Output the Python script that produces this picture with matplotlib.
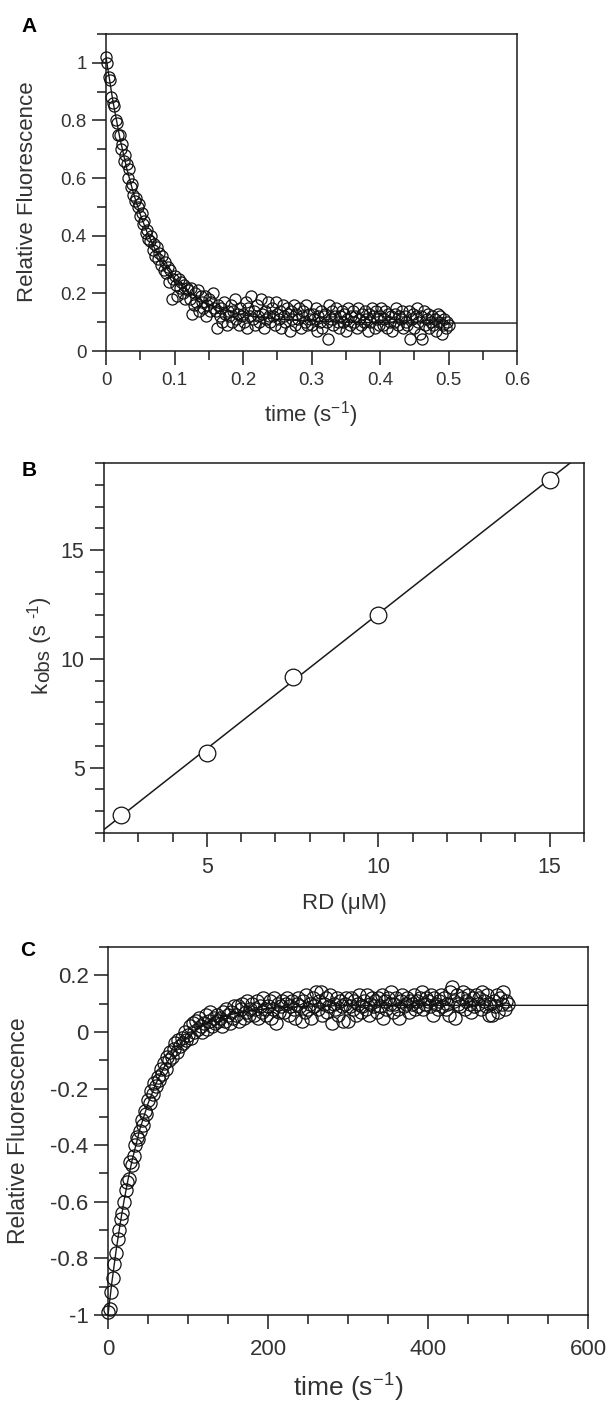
import matplotlib
matplotlib.use("Agg")
import matplotlib.pyplot as plt
from matplotlib.ticker import FixedLocator, NullFormatter

plt.rcParams['font.family'] = ['Liberation Sans', 'DejaVu Sans']
plt.rcParams['mathtext.fontset'] = 'custom'
plt.rcParams['mathtext.rm'] = 'Liberation Sans'
plt.rcParams['mathtext.it'] = 'Liberation Sans'
plt.rcParams['mathtext.default'] = 'regular'

# ---------------- Panel A data (decay) ----------------
a_time = [
    0.000, 0.002, 0.004, 0.006, 0.008, 0.010, 0.012, 0.014, 0.016, 0.018,
    0.020, 0.022, 0.024, 0.026, 0.028, 0.030, 0.032, 0.034, 0.036, 0.038,
    0.040, 0.042, 0.044, 0.046, 0.048, 0.050, 0.052, 0.054, 0.056, 0.058,
    0.060, 0.062, 0.064, 0.066, 0.068, 0.070, 0.072, 0.074, 0.076, 0.078,
    0.080, 0.082, 0.084, 0.086, 0.088, 0.090, 0.092, 0.094, 0.096, 0.098,
    0.100, 0.102, 0.104, 0.106, 0.108, 0.110, 0.112, 0.114, 0.116, 0.118,
    0.120, 0.122, 0.124, 0.126, 0.128, 0.130, 0.132, 0.134, 0.136, 0.138,
    0.140, 0.142, 0.144, 0.146, 0.148, 0.150, 0.152, 0.154, 0.156, 0.158,
    0.160, 0.162, 0.164, 0.166, 0.168, 0.170, 0.172, 0.174, 0.176, 0.178,
    0.180, 0.182, 0.184, 0.186, 0.188, 0.190, 0.192, 0.194, 0.196, 0.198,
    0.200, 0.202, 0.204, 0.206, 0.208, 0.210, 0.212, 0.214, 0.216, 0.218,
    0.220, 0.222, 0.224, 0.226, 0.228, 0.230, 0.232, 0.234, 0.236, 0.238,
    0.240, 0.242, 0.244, 0.246, 0.248, 0.250, 0.252, 0.254, 0.256, 0.258,
    0.260, 0.262, 0.264, 0.266, 0.268, 0.270, 0.272, 0.274, 0.276, 0.278,
    0.280, 0.282, 0.284, 0.286, 0.288, 0.290, 0.292, 0.294, 0.296, 0.298,
    0.300, 0.302, 0.304, 0.306, 0.308, 0.310, 0.312, 0.314, 0.316, 0.318,
    0.320, 0.322, 0.324, 0.326, 0.328, 0.330, 0.332, 0.334, 0.336, 0.338,
    0.340, 0.342, 0.344, 0.346, 0.348, 0.350, 0.352, 0.354, 0.356, 0.358,
    0.360, 0.362, 0.364, 0.366, 0.368, 0.370, 0.372, 0.374, 0.376, 0.378,
    0.380, 0.382, 0.384, 0.386, 0.388, 0.390, 0.392, 0.394, 0.396, 0.398,
    0.400, 0.402, 0.404, 0.406, 0.408, 0.410, 0.412, 0.414, 0.416, 0.418,
    0.420, 0.422, 0.424, 0.426, 0.428, 0.430, 0.432, 0.434, 0.436, 0.438,
    0.440, 0.442, 0.444, 0.446, 0.448, 0.450, 0.452, 0.454, 0.456, 0.458,
    0.460, 0.462, 0.464, 0.466, 0.468, 0.470, 0.472, 0.474, 0.476, 0.478,
    0.480, 0.482, 0.484, 0.486, 0.488, 0.490, 0.492, 0.494, 0.496, 0.498,
    0.500,
]
a_fluor = [
    1.02, 1.00, 0.95, 0.94, 0.88, 0.86, 0.85, 0.80, 0.79, 0.75,
    0.75, 0.70, 0.72, 0.66, 0.68, 0.65, 0.60, 0.63, 0.57, 0.58,
    0.54, 0.52, 0.53, 0.50, 0.51, 0.47, 0.48, 0.44, 0.45, 0.41,
    0.42, 0.39, 0.38, 0.40, 0.35, 0.37, 0.33, 0.36, 0.32, 0.34,
    0.30, 0.33, 0.28, 0.31, 0.27, 0.29, 0.24, 0.28, 0.18, 0.25,
    0.26, 0.23, 0.19, 0.25, 0.22, 0.24, 0.20, 0.23, 0.18, 0.22,
    0.21, 0.18, 0.22, 0.13, 0.16, 0.20, 0.17, 0.21, 0.14, 0.19,
    0.17, 0.15, 0.19, 0.12, 0.16, 0.18, 0.14, 0.17, 0.20, 0.15,
    0.14, 0.08, 0.16, 0.12, 0.15, 0.10, 0.17, 0.13, 0.09, 0.14,
    0.12, 0.16, 0.10, 0.14, 0.18, 0.11, 0.13, 0.09, 0.15, 0.12,
    0.13, 0.10, 0.17, 0.08, 0.15, 0.12, 0.19, 0.11, 0.14, 0.09,
    0.16, 0.12, 0.10, 0.18, 0.13, 0.08, 0.14, 0.11, 0.17, 0.12,
    0.10, 0.15, 0.12, 0.09, 0.17, 0.13, 0.11, 0.14, 0.08, 0.16,
    0.12, 0.10, 0.15, 0.13, 0.07, 0.14, 0.11, 0.16, 0.09, 0.13,
    0.11, 0.15, 0.08, 0.12, 0.14, 0.10, 0.16, 0.09, 0.13, 0.11,
    0.09, 0.13, 0.11, 0.15, 0.07, 0.12, 0.10, 0.14, 0.08, 0.12,
    0.13, 0.10, 0.04, 0.16, 0.11, 0.14, 0.09, 0.12, 0.15, 0.10,
    0.08, 0.12, 0.14, 0.10, 0.13, 0.07, 0.11, 0.15, 0.09, 0.12,
    0.14, 0.10, 0.12, 0.08, 0.15, 0.11, 0.09, 0.13, 0.10, 0.14,
    0.11, 0.07, 0.13, 0.10, 0.15, 0.12, 0.08, 0.14, 0.11, 0.09,
    0.12, 0.15, 0.09, 0.11, 0.14, 0.08, 0.13, 0.10, 0.12, 0.07,
    0.10, 0.13, 0.15, 0.09, 0.12, 0.11, 0.14, 0.08, 0.12, 0.10,
    0.09, 0.14, 0.04, 0.11, 0.13, 0.08, 0.12, 0.15, 0.10, 0.06,
    0.12, 0.04, 0.14, 0.09, 0.11, 0.13, 0.08, 0.10, 0.12, 0.09,
    0.11, 0.07, 0.13, 0.10, 0.12, 0.06, 0.09, 0.11, 0.08, 0.10,
    0.09,
]
a_fit_time = [0.0, 0.01, 0.02, 0.03, 0.04, 0.05, 0.06, 0.07, 0.08, 0.09, 0.10,
              0.12, 0.14, 0.16, 0.18, 0.20, 0.25, 0.30, 0.35, 0.40, 0.50, 0.60]
a_fit_fluor = [1.02, 0.868, 0.742, 0.636, 0.548, 0.474, 0.412, 0.361, 0.318, 0.282, 0.252,
               0.206, 0.174, 0.152, 0.136, 0.125, 0.110, 0.104, 0.100, 0.098, 0.097, 0.097]

# ---------------- Panel B data (kobs vs RD) ----------------
b_rd = [2.5, 5.0, 7.5, 10.0, 15.0]
b_kobs = [2.82, 5.68, 9.15, 12.01, 18.23]
b_fit_rd = [2.0, 16.0]
b_fit_kobs = [2.16, 19.50]

# ---------------- Panel C data (rise) ----------------
c_time = [
    0, 2, 4, 6, 8, 10, 12, 14, 16, 18,
    20, 22, 24, 26, 28, 30, 32, 34, 36, 38,
    40, 42, 44, 46, 48, 50, 52, 54, 56, 58,
    60, 62, 64, 66, 68, 70, 72, 74, 76, 78,
    80, 82, 84, 86, 88, 90, 92, 94, 96, 98,
    100, 102, 104, 106, 108, 110, 112, 114, 116, 118,
    120, 122, 124, 126, 128, 130, 132, 134, 136, 138,
    140, 142, 144, 146, 148, 150, 152, 154, 156, 158,
    160, 162, 164, 166, 168, 170, 172, 174, 176, 178,
    180, 182, 184, 186, 188, 190, 192, 194, 196, 198,
    200, 202, 204, 206, 208, 210, 212, 214, 216, 218,
    220, 222, 224, 226, 228, 230, 232, 234, 236, 238,
    240, 242, 244, 246, 248, 250, 252, 254, 256, 258,
    260, 262, 264, 266, 268, 270, 272, 274, 276, 278,
    280, 282, 284, 286, 288, 290, 292, 294, 296, 298,
    300, 302, 304, 306, 308, 310, 312, 314, 316, 318,
    320, 322, 324, 326, 328, 330, 332, 334, 336, 338,
    340, 342, 344, 346, 348, 350, 352, 354, 356, 358,
    360, 362, 364, 366, 368, 370, 372, 374, 376, 378,
    380, 382, 384, 386, 388, 390, 392, 394, 396, 398,
    400, 402, 404, 406, 408, 410, 412, 414, 416, 418,
    420, 422, 424, 426, 428, 430, 432, 434, 436, 438,
    440, 442, 444, 446, 448, 450, 452, 454, 456, 458,
    460, 462, 464, 466, 468, 470, 472, 474, 476, 478,
    480, 482, 484, 486, 488, 490, 492, 494, 496, 498,
    500,
]
c_fluor = [
    -0.99, -0.98, -0.92, -0.87, -0.82, -0.78, -0.73, -0.70, -0.66, -0.64,
    -0.60, -0.56, -0.53, -0.52, -0.46, -0.47, -0.44, -0.40, -0.37, -0.38,
    -0.35, -0.31, -0.33, -0.28, -0.29, -0.24, -0.25, -0.21, -0.22, -0.18,
    -0.19, -0.16, -0.17, -0.13, -0.15, -0.11, -0.13, -0.09, -0.10, -0.07,
    -0.09, -0.06, -0.04, -0.07, -0.03, -0.05, -0.02, -0.04, 0.00, -0.03,
    -0.01, 0.02, -0.02, 0.03, 0.00, 0.04, 0.01, 0.05, 0.02, 0.00,
    0.03, 0.06, 0.01, 0.04, 0.07, 0.02, 0.05, 0.03, 0.06, 0.04,
    0.05, 0.02, 0.07, 0.04, 0.08, 0.06, 0.03, 0.07, 0.05, 0.09,
    0.06, 0.09, 0.04, 0.08, 0.10, 0.05, 0.07, 0.11, 0.06, 0.08,
    0.10, 0.06, 0.08, 0.11, 0.05, 0.09, 0.07, 0.12, 0.08, 0.06,
    0.09, 0.11, 0.05, 0.08, 0.12, 0.03, 0.10, 0.07, 0.09, 0.11,
    0.07, 0.10, 0.12, 0.06, 0.09, 0.11, 0.08, 0.05, 0.10, 0.12,
    0.09, 0.04, 0.11, 0.07, 0.13, 0.08, 0.10, 0.05, 0.12, 0.09,
    0.14, 0.08, 0.11, 0.14, 0.06, 0.10, 0.12, 0.07, 0.09, 0.13,
    0.03, 0.10, 0.08, 0.12, 0.06, 0.11, 0.09, 0.04, 0.10, 0.12,
    0.04, 0.09, 0.12, 0.08, 0.11, 0.06, 0.10, 0.13, 0.07, 0.09,
    0.11, 0.08, 0.13, 0.06, 0.10, 0.12, 0.09, 0.11, 0.07, 0.12,
    0.09, 0.13, 0.05, 0.11, 0.08, 0.12, 0.10, 0.14, 0.07, 0.10,
    0.12, 0.08, 0.05, 0.11, 0.13, 0.09, 0.10, 0.12, 0.07, 0.11,
    0.10, 0.13, 0.08, 0.11, 0.09, 0.12, 0.14, 0.08, 0.10, 0.12,
    0.11, 0.09, 0.13, 0.06, 0.12, 0.10, 0.08, 0.11, 0.13, 0.09,
    0.12, 0.08, 0.10, 0.06, 0.14, 0.16, 0.11, 0.05, 0.13, 0.10,
    0.09, 0.12, 0.14, 0.08, 0.11, 0.13, 0.10, 0.07, 0.12, 0.09,
    0.13, 0.10, 0.12, 0.08, 0.14, 0.11, 0.09, 0.13, 0.06, 0.10,
    0.06, 0.11, 0.09, 0.13, 0.07, 0.12, 0.10, 0.14, 0.08, 0.11,
    0.10,
]
c_fit_time = [0, 5, 10, 15, 20, 25, 30, 40, 50, 60, 70, 80, 90, 100,
              120, 140, 160, 180, 200, 250, 300, 400, 600]
c_fit_fluor = [-1.0, -0.881, -0.775, -0.681, -0.597, -0.522, -0.455, -0.342, -0.253,
               -0.182, -0.125, -0.080, -0.044, -0.016, 0.025, 0.050, 0.066, 0.076,
               0.083, 0.091, 0.093, 0.094, 0.094]

# ---------------- tick labels ----------------
a_xticks = [0.0, 0.1, 0.2, 0.3, 0.4, 0.5, 0.6]
a_xticklabels = ['0', '0.1', '0.2', '0.3', '0.4', '0.5', '0.6']
a_xminor = [0.05, 0.15, 0.25, 0.35, 0.45, 0.55]
a_yticks = [0.0, 0.2, 0.4, 0.6, 0.8, 1.0]
a_yticklabels = ['0', '0.2', '0.4', '0.6', '0.8', '1']
a_yminor = [0.1, 0.3, 0.5, 0.7, 0.9, 1.1]

b_xticks = [5, 10, 15]
b_xticklabels = ['5', '10', '15']
b_xminor = [2, 3, 4, 6, 7, 8, 9, 11, 12, 13, 14, 16]
b_yticks = [5, 10, 15]
b_yticklabels = ['5', '10', '15']
b_yminor = [2, 3, 4, 6, 7, 8, 9, 11, 12, 13, 14, 16, 17, 18, 19]

c_xticks = [0, 200, 400, 600]
c_xticklabels = ['0', '200', '400', '600']
c_xminor = [50, 100, 150, 250, 300, 350, 450, 500, 550]
c_yticks = [-1.0, -0.8, -0.6, -0.4, -0.2, 0.0, 0.2]
c_yticklabels = ['-1', '-0.8', '-0.6', '-0.4', '-0.2', '0', '0.2']
c_yminor = [-0.9, -0.7, -0.5, -0.3, -0.1, 0.1, 0.3]

W, H = 609, 1403
fig = plt.figure(figsize=(W / 100, H / 100), dpi=100)
TXT = '#333333'
INK = '#1a1a1a'


def add_axes_px(left, top, right, bottom):
    return fig.add_axes([left / W, (H - bottom) / H, (right - left) / W, (bottom - top) / H])


def style(ax, xt, xtl, xm, yt, ytl, ym, fs, xpad, ypad):
    for s in ax.spines.values():
        s.set_linewidth(1.1)
        s.set_color(INK)
    ax.set_xticks(xt)
    ax.set_xticklabels(xtl)
    ax.set_yticks(yt)
    ax.set_yticklabels(ytl)
    ax.xaxis.set_minor_locator(FixedLocator(xm))
    ax.yaxis.set_minor_locator(FixedLocator(ym))
    ax.xaxis.set_minor_formatter(NullFormatter())
    ax.yaxis.set_minor_formatter(NullFormatter())
    ax.tick_params(which='major', direction='out', length=10, width=1.1,
                   color=INK, labelsize=fs, labelcolor=TXT)
    ax.tick_params(which='minor', direction='out', length=6.5, width=1.1, color=INK)
    ax.tick_params(axis='x', which='major', pad=xpad)
    ax.tick_params(axis='y', which='major', pad=ypad)
    ax.tick_params(top=False, right=False)


def fx(x):
    return x / W


def fy(y):
    return (H - y) / H


# ---------------- Panel A ----------------
axA = add_axes_px(106, 34, 517, 351)
axA.plot(a_fit_time, a_fit_fluor, color=INK, lw=1.0, zorder=2)
axA.plot(a_time, a_fluor, linestyle='none', marker='o', markersize=8,
         markerfacecolor='none', markeredgecolor='#111111', markeredgewidth=0.9,
         clip_on=False, zorder=3)
axA.set_xlim(0, 0.6)
axA.set_ylim(0, 1.1)
style(axA, a_xticks, a_xticklabels, a_xminor, a_yticks, a_yticklabels, a_yminor, 13.5, 5, 4)
fig.text(fx(29), fy(26), 'A', fontsize=15, fontweight='bold', ha='center', va='center')
fig.text(fx(28), fy(192), 'Relative Fluorescence', rotation=90, fontsize=16,
         ha='center', va='center', color=TXT)
fig.text(fx(311), fy(415), 'time (s$^{-1}$)', fontsize=16, ha='center', va='center',
         color=TXT)

# ---------------- Panel B ----------------
axB = add_axes_px(104, 463, 584, 833)
axB.plot(b_fit_rd, b_fit_kobs, color=INK, lw=1.1, zorder=2)
axB.plot(b_rd, b_kobs, linestyle='none', marker='o', markersize=12,
         markerfacecolor='white', markeredgecolor='#111111', markeredgewidth=0.9,
         clip_on=False, zorder=3)
axB.set_xlim(2, 16)
axB.set_ylim(2, 19)
style(axB, b_xticks, b_xticklabels, b_xminor, b_yticks, b_yticklabels, b_yminor, 15.5, 7, 4)
fig.text(fx(29), fy(470), 'B', fontsize=15, fontweight='bold', ha='center', va='center')
fig.text(fx(344), fy(904), 'RD (μM)', fontsize=16, ha='center', va='center', color=TXT)

# vertical k_obs label assembled from pieces (text, size factor, raise in px)
kobs_pieces = [('k', 1.0, 0), ('obs', 0.92, -3), (' (s ', 1.0, 0), ('-1', 0.72, 8), (')', 1.0, 0)]
renderer = fig.canvas.get_renderer()
kobs_fs = 16
kobs_base_x = 46
kobs_center_y = 645
pieces = []
for s, sc, rs in kobs_pieces:
    t = fig.text(0, 0, s, rotation=90, rotation_mode='anchor', ha='left', va='baseline',
                 fontsize=kobs_fs * sc, color=TXT)
    pieces.append((t, rs))
lengths = [t.get_window_extent(renderer).height for t, _ in pieces]
cur = (H - kobs_center_y) - sum(lengths) / 2
for (t, rs), L in zip(pieces, lengths):
    t.set_position((fx(kobs_base_x - rs), cur / H))
    cur += L

# ---------------- Panel C ----------------
axC = add_axes_px(108, 947, 588, 1315)
axC.plot(c_fit_time, c_fit_fluor, color=INK, lw=1.0, zorder=2)
axC.plot(c_time, c_fluor, linestyle='none', marker='o', markersize=9.5,
         markerfacecolor='none', markeredgecolor='#111111', markeredgewidth=0.9,
         clip_on=False, zorder=3)
axC.set_xlim(0, 600)
axC.set_ylim(-1, 0.3)
style(axC, c_xticks, c_xticklabels, c_xminor, c_yticks, c_yticklabels, c_yminor, 16, 7, 4)
fig.text(fx(28), fy(950), 'C', fontsize=15, fontweight='bold', ha='center', va='center')
fig.text(fx(19), fy(1131), 'Relative Fluorescence', rotation=90, fontsize=16.5,
         ha='center', va='center', color=TXT)
fig.text(fx(348), fy(1388), 'time (s$^{-1}$)', fontsize=19, ha='center', va='center',
         color=TXT)

fig.savefig('out.png', dpi=100)
